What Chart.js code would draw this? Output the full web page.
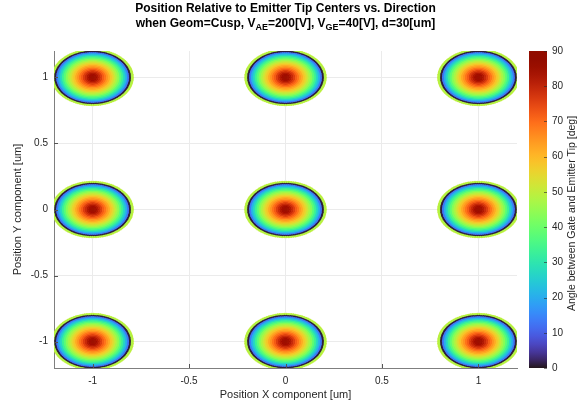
<!DOCTYPE html>
<html>
<head>
<meta charset="utf-8">
<script src="https://cdn.jsdelivr.net/npm/chart.js@4.4.0/dist/chart.umd.min.js"></script>
<style>
  html, body { margin: 0; padding: 0; background: #fff; }
</style>
</head>
<body>
<canvas id="chart" width="584" height="416"></canvas>
<script>
// emitter tip centres [um]
var tipX = [-1, 0, 1];
var tipY = [-1, 0, 1];
// radial profile around every tip: distance from centre [um] -> angle [deg]
var ringR   = [0, 0.01, 0.02, 0.03, 0.04, 0.05, 0.06, 0.07, 0.08, 0.09, 0.10,
               0.11, 0.12, 0.13, 0.14, 0.15, 0.16, 0.17, 0.18, 0.19, 0.20, 0.205];
var ringDeg = [85, 84, 82, 79, 76, 72, 69, 65, 62, 58, 55,
               51, 47, 43, 38, 33, 27, 21, 13, 1, 48, 50];
var xTicks = [-1, -0.5, 0, 0.5, 1];
var yTicks = [-1, -0.5, 0, 0.5, 1];
var cbTicks = [0, 10, 20, 30, 40, 50, 60, 70, 80, 90];

var FONT = '"Liberation Sans", Arial, Helvetica, sans-serif';
var TXT = '#262626';

// turbo colormap (polynomial approximation)
function turbo(t) {
  t = Math.max(0, Math.min(1, t));
  var r = 0.13572138 + t * (4.61539260 + t * (-42.66032258 + t * (132.13108234 + t * (-152.94239396 + t * 59.28637943))));
  var g = 0.09140261 + t * (2.19418839 + t * (4.84296658 + t * (-14.18503333 + t * (4.27729857 + t * 2.82956604))));
  var b = 0.10667330 + t * (12.64194608 + t * (-60.58204836 + t * (110.36276771 + t * (-89.90310912 + t * 27.34824973))));
  function c(v) { return Math.round(Math.max(0, Math.min(1, v)) * 255); }
  return 'rgb(' + c(r) + ',' + c(g) + ',' + c(b) + ')';
}

// one dataset per ring, inner rings first so they end up on top
var datasets = [];
for (var i = 0; i < ringR.length; i++) {
  var n = ringR[i] === 0 ? 1 : 110;
  var pts = [];
  for (var a = 0; a < tipX.length; a++) {
    for (var b = 0; b < tipY.length; b++) {
      for (var k = 0; k < n; k++) {
        var th = 2 * Math.PI * k / n;
        pts.push({ x: tipX[a] + ringR[i] * Math.cos(th), y: tipY[b] + ringR[i] * Math.sin(th) });
      }
    }
  }
  datasets.push({
    data: pts,
    backgroundColor: turbo(ringDeg[i] / 90),
    borderWidth: 0,
    pointRadius: 1.7,
    pointHoverRadius: 1.7
  });
}

var extras = {
  id: 'extras',
  afterDraw: function (chart) {
    var ctx = chart.ctx;
    var area = chart.chartArea;
    var sx = chart.scales.x, sy = chart.scales.y, cb = chart.scales.cb;
    ctx.save();

    // inward tick marks
    ctx.strokeStyle = '#555';
    ctx.lineWidth = 1;
    ctx.beginPath();
    xTicks.forEach(function (v) {
      var px = Math.round(sx.getPixelForValue(v)) + 0.5;
      ctx.moveTo(px, area.bottom); ctx.lineTo(px, area.bottom - 4);
    });
    yTicks.forEach(function (v) {
      var py = Math.round(sy.getPixelForValue(v)) + 0.5;
      ctx.moveTo(area.left, py); ctx.lineTo(area.left + 4, py);
    });
    ctx.stroke();

    // colorbar
    var x0 = area.right + 12, w = 18;
    var top = cb.getPixelForValue(90), bot = cb.getPixelForValue(0);
    var grad = ctx.createLinearGradient(0, bot, 0, top);
    for (var s = 0; s <= 40; s++) grad.addColorStop(s / 40, turbo(s / 40));
    ctx.fillStyle = grad;
    ctx.fillRect(x0, top, w, bot - top);
    ctx.strokeStyle = 'rgba(40,40,40,0.6)';
    ctx.beginPath();
    cbTicks.forEach(function (v) {
      var py = Math.round(cb.getPixelForValue(v)) + 0.5;
      ctx.moveTo(x0 + w, py); ctx.lineTo(x0 + w - 3, py);
    });
    ctx.stroke();

    // colorbar label
    ctx.fillStyle = TXT;
    ctx.font = '10.5px ' + FONT;
    ctx.textAlign = 'center';
    ctx.textBaseline = 'middle';
    ctx.translate(572, (top + bot) / 2 + 4);
    ctx.rotate(-Math.PI / 2);
    ctx.fillText('Angle between Gate and Emitter Tip [deg]', 0, 0);
    ctx.restore();

    // title with subscripts
    ctx.save();
    ctx.fillStyle = '#000';
    ctx.textBaseline = 'alphabetic';
    ctx.textAlign = 'left';
    var cx = (area.left + area.right) / 2;
    ctx.font = 'bold 12px ' + FONT;
    var l1 = 'Position Relative to Emitter Tip Centers vs. Direction';
    ctx.fillText(l1, cx - ctx.measureText(l1).width / 2, 12);
    var parts = [['when Geom=Cusp, V', 0], ['AE', 1], ['=200[V], V', 0], ['GE', 1], ['=40[V], d=30[um]', 0]];
    var total = 0;
    parts.forEach(function (p) {
      ctx.font = (p[1] ? 'bold 9px ' : 'bold 12px ') + FONT;
      p.push(ctx.measureText(p[0]).width);
      total += p[2];
    });
    var px = cx - total / 2;
    parts.forEach(function (p) {
      ctx.font = (p[1] ? 'bold 9px ' : 'bold 12px ') + FONT;
      ctx.fillText(p[0], px, p[1] ? 30 : 26.5);
      px += p[2];
    });
    ctx.restore();
  }
};

new Chart(document.getElementById('chart'), {
  type: 'scatter',
  data: { datasets: datasets },
  options: {
    responsive: false,
    animation: false,
    events: [],
    layout: { padding: { top: 51, right: 0, left: 0, bottom: 0 } },
    plugins: { legend: { display: false }, tooltip: { enabled: false } },
    scales: {
      x: {
        type: 'linear', min: -1.2, max: 1.2,
        afterBuildTicks: function (s) { s.ticks = xTicks.map(function (v) { return { value: v }; }); },
        afterFit: function (s) { s.height = 48; },
        grid: { color: '#ebebeb', drawTicks: false },
        border: { color: '#7f7f7f' },
        ticks: { autoSkip: false, maxRotation: 0, padding: 7, color: TXT, font: { family: FONT, size: 10 },
                 callback: function (v) { return String(v); } },
        title: { display: true, text: 'Position X component [um]', color: TXT,
                 font: { family: FONT, size: 11 }, padding: { top: 0, bottom: 14 } }
      },
      y: {
        type: 'linear', min: -1.2, max: 1.2,
        afterBuildTicks: function (s) { s.ticks = yTicks.map(function (v) { return { value: v }; }); },
        afterFit: function (s) { s.width = 54; },
        grid: { color: '#ebebeb', drawTicks: false },
        border: { color: '#7f7f7f' },
        ticks: { autoSkip: false, padding: 6, color: TXT, font: { family: FONT, size: 10 },
                 callback: function (v) { return String(v); } },
        title: { display: true, text: 'Position Y component [um]', color: TXT,
                 font: { family: FONT, size: 11 }, padding: { top: 11, bottom: 0 } }
      },
      cb: {
        type: 'linear', axis: 'y', position: 'right', min: 0, max: 90,
        afterBuildTicks: function (s) { s.ticks = cbTicks.map(function (v) { return { value: v }; }); },
        afterFit: function (s) { s.width = 67; },
        grid: { display: false, drawTicks: false },
        border: { display: false },
        ticks: { autoSkip: false, padding: 35, color: TXT, font: { family: FONT, size: 10 } }
      }
    }
  },
  plugins: [extras]
});
</script>
</body>
</html>
